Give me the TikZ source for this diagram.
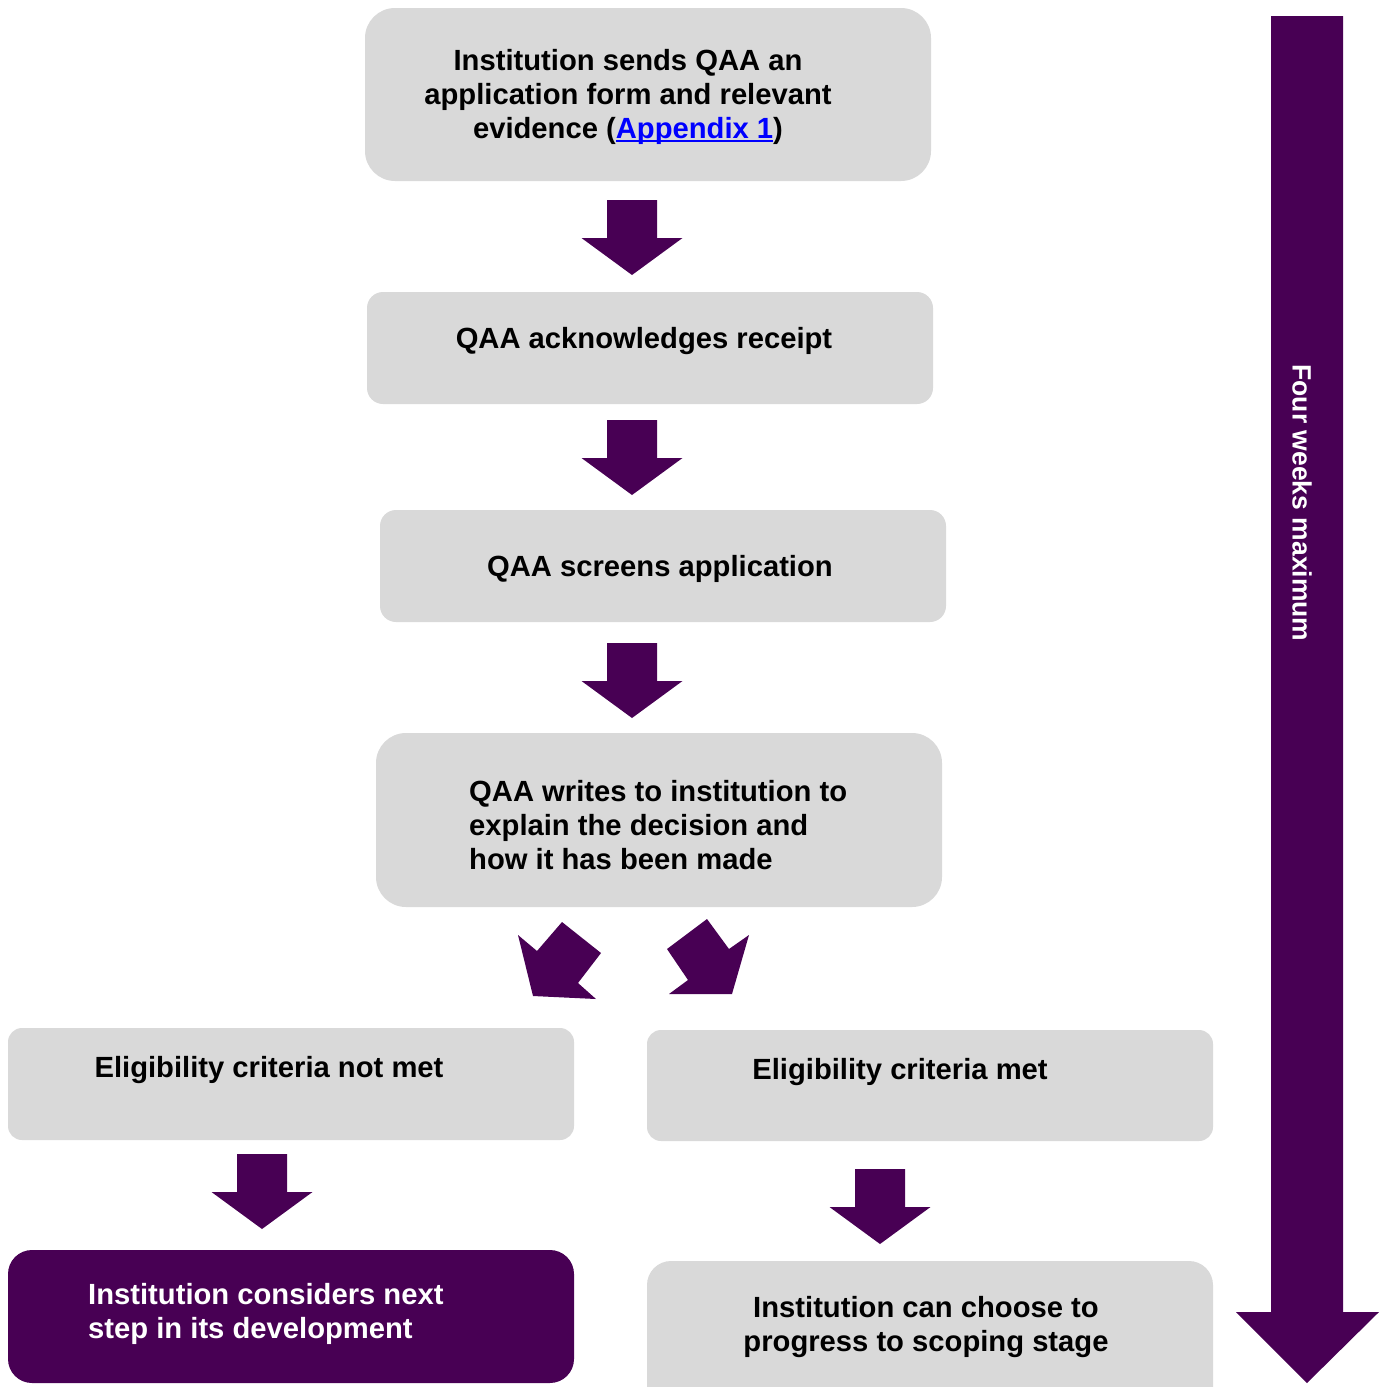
\documentclass[tikz,border=0pt]{standalone}
\usepackage{fontspec}
\setmainfont{Liberation Sans}
\definecolor{qpurple}{RGB}{72,0,84}
\definecolor{qgrey}{RGB}{217,217,217}
\newlength\qlinkw
\newcommand\qlink[1]{\settowidth\qlinkw{#1}{\color{blue}\rlap{\rule[-3.5pt]{\qlinkw}{2pt}}#1}}
\begin{document}
\begin{tikzpicture}[x=1pt,y=-1pt,
  greybox/.style={fill=qgrey,draw=none,rounded corners=#1},
  greybox/.default=16pt,
  txt/.style={font=\fontsize{29.2}{34}\selectfont\bfseries,inner sep=0pt,align=center},
  arrowfill/.style={fill=qpurple,draw=none}]
\useasboundingbox (0,0) rectangle (1385,1387);
\begin{scope}
\clip (0,0) rectangle (1385,1387);
% boxes
\path[greybox=30pt] (365,8) rectangle (931,181);
\path[greybox=16pt] (367,292) rectangle (933,404);
\path[greybox=16pt] (380,510) rectangle (946,622);
\path[greybox=30pt] (376,733) rectangle (942,907);
\path[greybox=14pt] (8,1028) rectangle (574,1140);
\path[greybox=14pt] (647,1030) rectangle (1213,1141);
\path[fill=qpurple,rounded corners=24pt] (8,1250) rectangle (574,1383);
\path[greybox=24pt] (647,1261) rectangle (1213,1420);
% down arrows
\foreach \cx/\ty in {632/200, 632/420, 632/643, 262/1154, 880/1169}{
  \path[arrowfill] (\cx-25,\ty) -- (\cx+25,\ty) -- (\cx+25,\ty+38) -- (\cx+50.5,\ty+38)
    -- (\cx,\ty+75) -- (\cx-50.5,\ty+38) -- (\cx-25,\ty+38) -- cycle;
}
% diagonal arrows
\path[arrowfill] (518,935) -- (537,951) -- (562,922) -- (601,953) -- (578,983) -- (596,999) -- (533,996) -- cycle;
\path[arrowfill] (667,949) -- (707,919) -- (729,949) -- (749,935) -- (732,994) -- (669,994) -- (688,980) -- cycle;
% big right arrow
\path[arrowfill] (1271,16) -- (1343,16) -- (1343,1312) -- (1379,1312) -- (1307,1383) -- (1236,1312) -- (1271,1312) -- cycle;
\end{scope}
% texts
\node[txt] (t1) at (628,97) {Institution sends QAA an\\application form and relevant\\evidence (\qlink{Appendix 1})};
\node[txt] (t2) at (644,341) {QAA acknowledges receipt};
\node[txt] (t3) at (660,569) {QAA screens application};
\node[txt,align=left,anchor=west] (t4) at (469,825) {QAA writes to institution to\\explain the decision and\\how it has been made};
\node[txt] (t5) at (269,1070) {Eligibility criteria not met};
\node[txt] (t6) at (900,1072) {Eligibility criteria met};
\node[txt,align=left,anchor=west,text=white] (t7) at (88,1314) {Institution considers next\\step in its development};
\node[txt] (t8) at (926,1327) {Institution can choose to\\progress to scoping stage};
\node[txt,font=\fontsize{26.5}{32}\selectfont\bfseries,text=white,rotate=-90] (t9) at (1302,503) {Four weeks maximum};
\end{tikzpicture}
\end{document}
